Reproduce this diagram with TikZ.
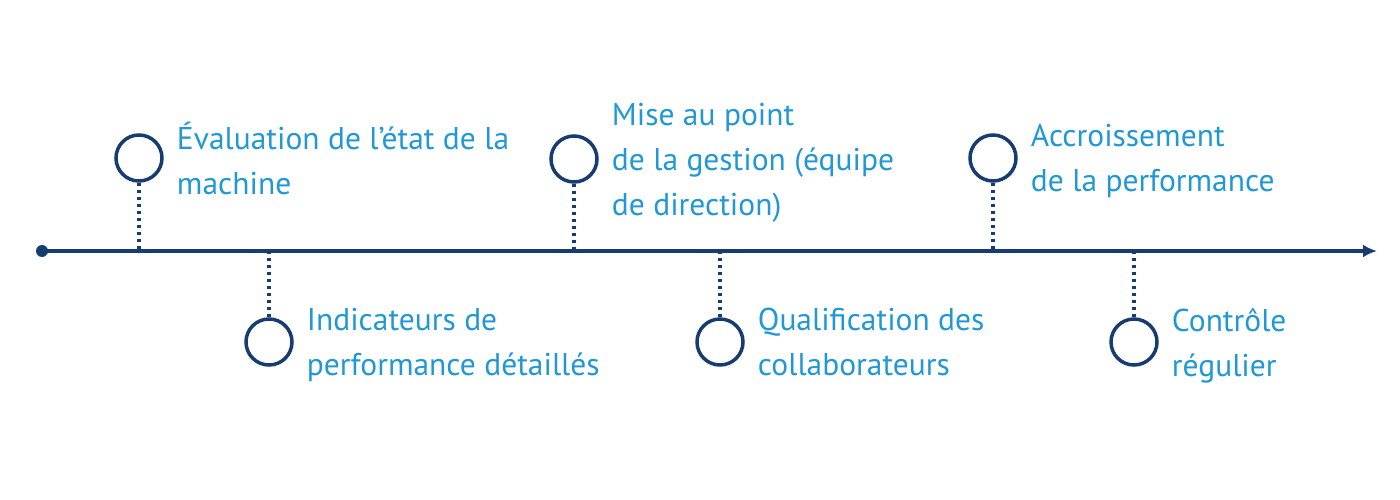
\documentclass[tikz,border=0pt]{standalone}
\usepackage{fontspec}
\setmainfont{PT Sans}
\usetikzlibrary{positioning,arrows.meta}
\definecolor{navy}{RGB}{22,60,112}
\definecolor{skyblue}{RGB}{32,152,214}
\begin{document}
\begin{tikzpicture}[x=1pt, y=-1pt,
    mile/.style={circle, draw=navy, line width=3.5pt, minimum size=46pt, inner sep=0pt},
    lbl/.style={right=13pt of #1, yshift=-7pt, inner sep=0pt, align=left, text=skyblue,
        font=\fontsize{31.5}{45}\selectfont, execute at begin node=\strut, execute at end node=\strut},
    stem/.style={navy, line width=3.5pt, dash pattern=on 3.5pt off 3.5pt}]
    \useasboundingbox (0,0) rectangle (1400,500);

    % time axis
    \coordinate (start) at (42,251);
    \coordinate (end) at (1377,251);
    \draw[navy, line width=3.5pt, -{Latex[length=14pt,width=13pt]}] (start) -- (end);
    \fill[navy] (start) circle (6pt);

    % milestones above the axis
    \node[mile] (c1) at (139,158) {};
    \node[mile] (c3) at (574,159) {};
    \node[mile] (c5) at (993,158) {};
    % milestones below the axis
    \node[mile] (c2) at (269,342) {};
    \node[mile] (c4) at (720,342) {};
    \node[mile] (c6) at (1134,342) {};

    % feet on the axis
    \foreach \i in {1,...,6}
        \coordinate (f\i) at (c\i |- start);
    \foreach \i in {1,...,6}
        \draw[stem] (c\i) -- (f\i);

    % labels
    \node[lbl=c1] (t1) {Évaluation de l’état de la\\machine};
    \node[lbl=c3] (t3) {Mise au point\\de la gestion (équipe\\de direction)};
    \node[lbl=c5] (t5) {Accroissement\\de la performance};
    \node[lbl=c2] (t2) {Indicateurs de\\performance détaillés};
    \node[lbl=c4] (t4) {Qualification des\\collaborateurs};
    \node[lbl=c6] (t6) {Contrôle\\régulier};
\end{tikzpicture}
\end{document}
